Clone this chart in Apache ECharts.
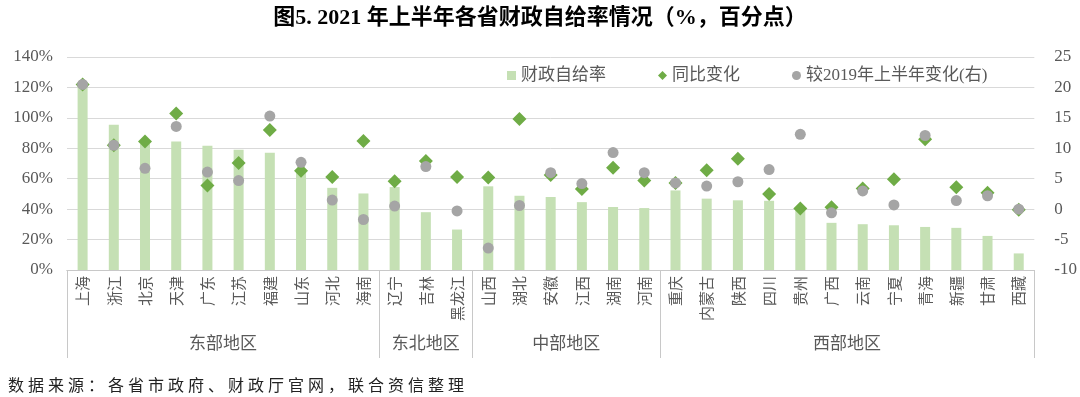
<!DOCTYPE html>
<html>
<head>
<meta charset="utf-8">
<script src="https://cdn.jsdelivr.net/npm/echarts@6/dist/echarts.min.js"></script>
<style>
  html, body { margin: 0; padding: 0; background: #fff; }
  #wrap { position: relative; width: 1080px; height: 397px; }
  #chart { width: 1080px; height: 397px; }
  #source {
    position: absolute; left: 8px; top: 372px;
    font-family: "Noto Sans CJK SC", sans-serif; font-size: 16px;
    letter-spacing: 4px; color: #222; white-space: nowrap;
  }
</style>
</head>
<body>
<div id="wrap">
  <div id="chart"></div>
  <div id="source">数据来源：各省市政府、财政厅官网，联合资信整理</div>
</div>
<script>
// provinces in display order, grouped by region
const categories = ['上海', '浙江', '北京', '天津', '广东', '江苏', '福建', '山东', '河北', '海南',
  '辽宁', '吉林', '黑龙江',
  '山西', '湖北', '安徽', '江西', '湖南', '河南',
  '重庆', '内蒙古', '陕西', '四川', '贵州', '广西', '云南', '宁夏', '青海', '新疆', '甘肃', '西藏'];
const regions = ['东部地区', '东北地区', '中部地区', '西部地区'];
const regionSizes = [10, 3, 6, 12];

// 财政自给率 (%)
const selfRate = [121, 95.5, 83, 84.5, 81.7, 79, 77, 66, 54, 50.3,
  54.5, 38, 26.6,
  55, 48.8, 48, 44.6, 41.4, 40.7,
  52.3, 46.9, 45.8, 45.5, 40, 31, 30.1, 29.4, 28.3, 27.7, 22.4, 10.9];
// 同比变化 (百分点)
const yoyChange = [20.5, 10.5, 11.1, 15.7, 3.9, 7.6, 13.0, 6.3, 5.3, 11.2,
  4.6, 7.9, 5.3,
  5.2, 14.8, 5.6, 3.3, 6.8, 4.7,
  4.3, 6.4, 8.3, 2.5, 0.1, 0.3, 3.4, 4.9, 11.5, 3.6, 2.7, -0.1];
// 较2019年上半年变化 (百分点, 右轴)
const vs2019 = [20.5, 10.5, 6.7, 13.6, 6.1, 4.7, 15.3, 7.7, 1.5, -1.7,
  0.5, 7.0, -0.3,
  -6.4, 0.6, 6.0, 4.2, 9.3, 6.0,
  4.3, 3.8, 4.5, 6.5, 12.3, -0.6, 3.0, 0.7, 12.1, 1.4, 2.2, 0];

const leftTicks = { min: 0, max: 140, interval: 20 };
const rightTicks = { min: -10, max: 25, interval: 5 };

// region boundaries and centres on a 0..N scale
const bounds = [0];
regionSizes.forEach(s => bounds.push(bounds[bounds.length - 1] + s));
const centres = regionSizes.map((s, i) => bounds[i] + s / 2);

const serif = "'Liberation Serif', 'Noto Sans CJK SC'";
const grey = '#595959';
const lineGrey = '#c8c8c8';

const chart = echarts.init(document.getElementById('chart'), null, { renderer: 'canvas' });
chart.setOption({
  animation: false,
  title: {
    text: '图5. 2021 年上半年各省财政自给率情况（%，百分点）',
    left: 'center', top: 2,
    textStyle: { fontFamily: serif, fontSize: 22, fontWeight: 'bold', color: '#000' }
  },
  legend: {
    left: 502, top: 62,
    itemWidth: 9, itemHeight: 9, itemGap: 52,
    textStyle: { fontFamily: serif, fontSize: 17, color: grey },
    data: [
      { name: '财政自给率', icon: 'rect' },
      { name: '同比变化', icon: 'diamond' },
      { name: '较2019年上半年变化(右)', icon: 'circle' }
    ]
  },
  grid: { left: 67, right: 43, top: 57, bottom: 127 },
  xAxis: [{
    type: 'category',
    data: categories,
    axisLine: { lineStyle: { color: lineGrey } },
    axisTick: { show: false },
    axisLabel: {
      interval: 0, rotate: 90, margin: 6,
      fontFamily: "'Noto Sans CJK SC'", fontSize: 15, color: grey
    }
  }, {
    type: 'value',
    min: 0, max: categories.length,
    position: 'bottom',
    axisLine: { show: true, onZero: false, lineStyle: { color: lineGrey } },
    splitLine: { show: false },
    axisTick: { show: true, customValues: bounds, length: 88, lineStyle: { color: lineGrey } },
    axisLabel: {
      customValues: centres, margin: 64,
      fontFamily: "'Noto Sans CJK SC'", fontSize: 17, color: grey,
      formatter: v => regions[centres.indexOf(v)] || ''
    }
  }],
  yAxis: [{
    type: 'value',
    ...leftTicks,
    axisLine: { show: false },
    axisTick: { show: false },
    splitLine: { lineStyle: { color: '#d9d9d9', width: 1 } },
    axisLabel: { formatter: '{value}%', margin: 14, fontFamily: serif, fontSize: 17, color: grey }
  }, {
    type: 'value',
    ...rightTicks,
    axisLine: { show: false },
    axisTick: { show: false },
    splitLine: { show: false },
    axisLabel: { margin: 20, fontFamily: serif, fontSize: 17, color: grey }
  }],
  series: [{
    name: '财政自给率',
    type: 'bar',
    data: selfRate,
    barWidth: 10,
    itemStyle: { color: '#c5e0b4' }
  }, {
    name: '同比变化',
    type: 'scatter',
    yAxisIndex: 1,
    data: yoyChange,
    symbol: 'diamond',
    symbolSize: 14,
    itemStyle: { color: '#6fac46', opacity: 1 }
  }, {
    name: '较2019年上半年变化(右)',
    type: 'scatter',
    yAxisIndex: 1,
    data: vs2019,
    symbol: 'circle',
    symbolSize: 11,
    itemStyle: { color: '#a5a5a5', opacity: 1 }
  }]
});
</script>
</body>
</html>
